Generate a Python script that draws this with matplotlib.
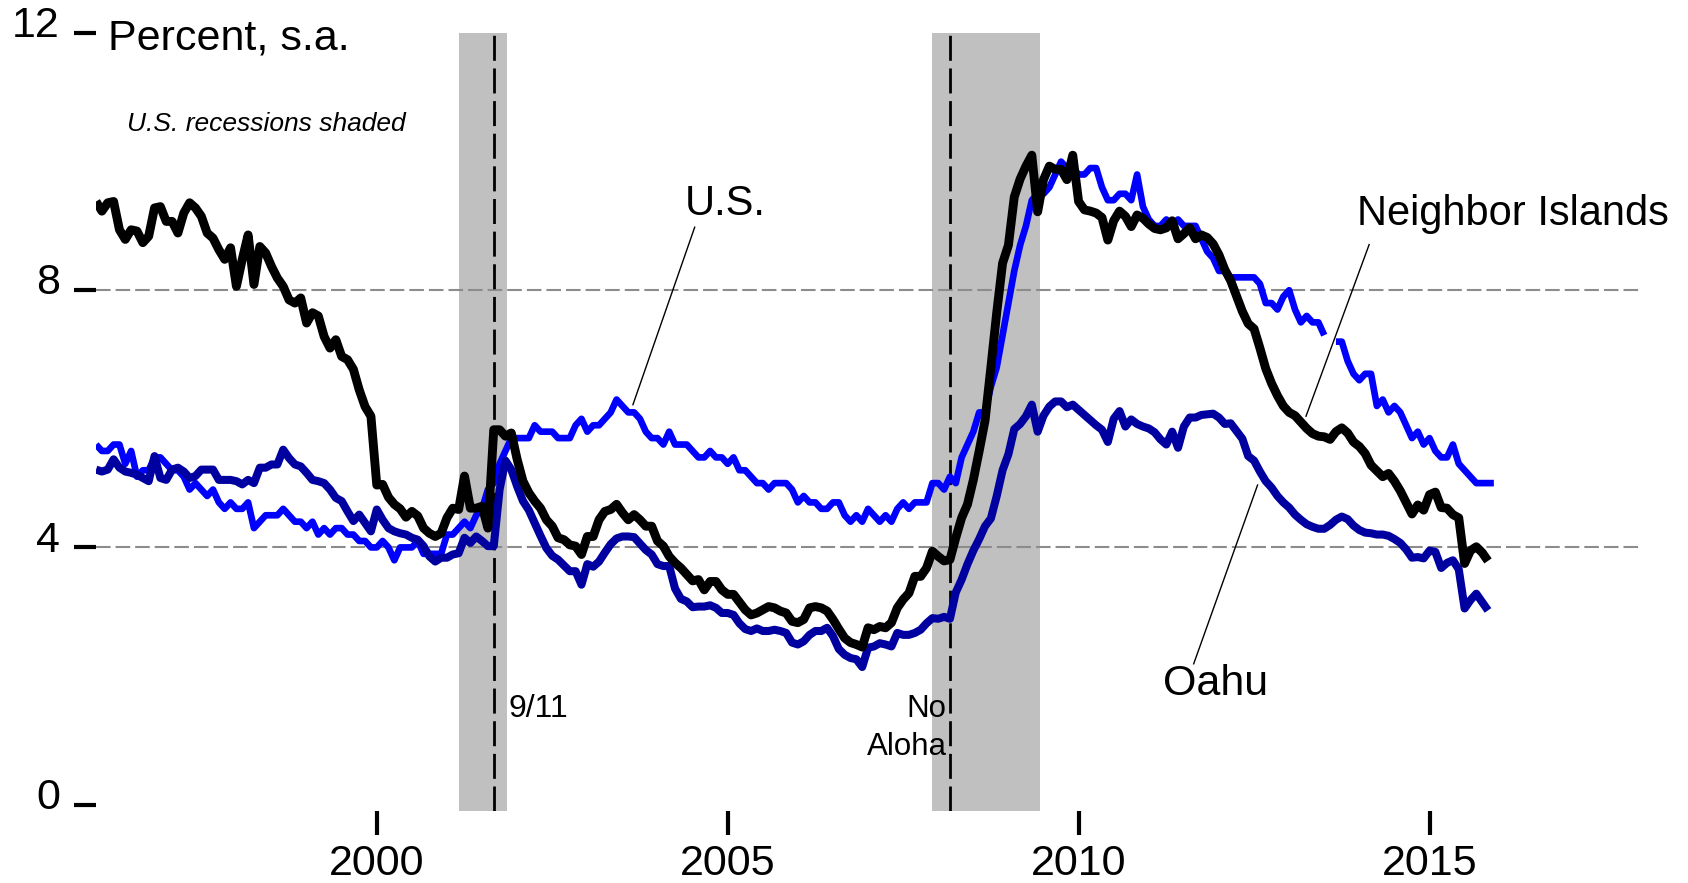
#!/usr/bin/env python3
"""Unemployment rates: U.S., Oahu and Neighbor Islands, monthly 1996-2015."""
import numpy as np
import matplotlib

matplotlib.use("Agg")
import matplotlib.pyplot as plt
from matplotlib.transforms import ScaledTranslation

START_YEAR = 1996  # first month of every series is January 1996

# percent, seasonally adjusted, one value per month
us = [
    5.6, 5.5, 5.5, 5.6, 5.6, 5.3, 5.5, 5.1, 5.2, 5.2, 5.4, 5.4,  # 1996
    5.3, 5.2, 5.2, 5.1, 4.9, 5.0, 4.9, 4.8, 4.9, 4.7, 4.6, 4.7,  # 1997
    4.6, 4.6, 4.7, 4.3, 4.4, 4.5, 4.5, 4.5, 4.6, 4.5, 4.4, 4.4,  # 1998
    4.3, 4.4, 4.2, 4.3, 4.2, 4.3, 4.3, 4.2, 4.2, 4.1, 4.1, 4.0,  # 1999
    4.0, 4.1, 4.0, 3.8, 4.0, 4.0, 4.0, 4.1, 3.9, 3.9, 3.9, 3.9,  # 2000
    4.2, 4.2, 4.3, 4.4, 4.3, 4.5, 4.6, 4.9, 5.0, 5.3, 5.5, 5.7,  # 2001
    5.7, 5.7, 5.7, 5.9, 5.8, 5.8, 5.8, 5.7, 5.7, 5.7, 5.9, 6.0,  # 2002
    5.8, 5.9, 5.9, 6.0, 6.1, 6.3, 6.2, 6.1, 6.1, 6.0, 5.8, 5.7,  # 2003
    5.7, 5.6, 5.8, 5.6, 5.6, 5.6, 5.5, 5.4, 5.4, 5.5, 5.4, 5.4,  # 2004
    5.3, 5.4, 5.2, 5.2, 5.1, 5.0, 5.0, 4.9, 5.0, 5.0, 5.0, 4.9,  # 2005
    4.7, 4.8, 4.7, 4.7, 4.6, 4.6, 4.7, 4.7, 4.5, 4.4, 4.5, 4.4,  # 2006
    4.6, 4.5, 4.4, 4.5, 4.4, 4.6, 4.7, 4.6, 4.7, 4.7, 4.7, 5.0,  # 2007
    5.0, 4.9, 5.1, 5.0, 5.4, 5.6, 5.8, 6.1, 6.1, 6.5, 6.8, 7.3,  # 2008
    7.8, 8.3, 8.7, 9.0, 9.4, 9.5, 9.5, 9.6, 9.8, 10.0, 9.9, 9.9,  # 2009
    9.8, 9.8, 9.9, 9.9, 9.6, 9.4, 9.4, 9.5, 9.5, 9.4, 9.8, 9.3,  # 2010
    9.1, 9.0, 9.0, 9.1, 9.0, 9.1, 9.0, 9.0, 9.0, 8.8, 8.6, 8.5,  # 2011
    8.3, 8.3, 8.2, 8.2, 8.2, 8.2, 8.2, 8.1, 7.8, 7.8, 7.7, 7.9,  # 2012
    8.0, 7.7, 7.5, 7.6, 7.5, 7.5, 7.3, np.nan, 7.2, 7.2, 6.9, 6.7,  # 2013
    6.6, 6.7, 6.7, 6.2, 6.3, 6.1, 6.2, 6.1, 5.9, 5.7, 5.8, 5.6,  # 2014
    5.7, 5.5, 5.4, 5.4, 5.6, 5.3, 5.2, 5.1, 5.0, 5.0, 5.0, 5.0,  # 2015
]

oahu = [
    5.21, 5.18, 5.21, 5.37, 5.24, 5.18, 5.16, 5.13, 5.08, 5.03, 5.42, 5.08,
    5.05, 5.21, 5.24, 5.18, 5.08, 5.11, 5.21, 5.21, 5.21, 5.05, 5.05, 5.05,
    5.03, 4.98, 5.05, 5.00, 5.24, 5.24, 5.29, 5.29, 5.52, 5.39, 5.29, 5.26,
    5.16, 5.05, 5.03, 5.00, 4.90, 4.77, 4.72, 4.56, 4.41, 4.51, 4.38, 4.25,
    4.59, 4.43, 4.30, 4.25, 4.22, 4.20, 4.15, 4.12, 4.02, 3.86, 3.78, 3.84,
    3.84, 3.89, 3.91, 4.15, 4.07, 4.17, 4.10, 4.02, 4.02, 4.90, 5.35, 5.21,
    4.95, 4.72, 4.58, 4.38, 4.18, 3.99, 3.87, 3.81, 3.72, 3.63, 3.63, 3.42,
    3.74, 3.70, 3.78, 3.92, 4.05, 4.14, 4.17, 4.17, 4.16, 4.06, 3.96, 3.89,
    3.74, 3.71, 3.71, 3.36, 3.20, 3.16, 3.07, 3.08, 3.08, 3.10, 3.06, 2.98,
    2.98, 2.95, 2.82, 2.73, 2.70, 2.74, 2.70, 2.70, 2.72, 2.70, 2.67, 2.52,
    2.49, 2.54, 2.64, 2.70, 2.70, 2.75, 2.62, 2.42, 2.33, 2.28, 2.26, 2.14,
    2.44, 2.46, 2.51, 2.49, 2.46, 2.67, 2.64, 2.64, 2.67, 2.72, 2.82, 2.90,
    2.89, 2.92, 2.89, 3.30, 3.50, 3.74, 3.95, 4.13, 4.33, 4.45, 4.80, 5.20,
    5.45, 5.84, 5.92, 6.04, 6.22, 5.80, 6.05, 6.19, 6.27, 6.27, 6.18, 6.22,
    6.14, 6.06, 5.98, 5.90, 5.83, 5.64, 6.00, 6.12, 5.88, 5.99, 5.92, 5.88,
    5.85, 5.79, 5.68, 5.60, 5.80, 5.55, 5.88, 6.02, 6.02, 6.06, 6.07, 6.08,
    6.02, 5.92, 5.93, 5.81, 5.69, 5.42, 5.35, 5.18, 5.03, 4.93, 4.80, 4.70,
    4.62, 4.51, 4.43, 4.36, 4.32, 4.29, 4.29, 4.35, 4.43, 4.48, 4.44, 4.34,
    4.27, 4.23, 4.22, 4.20, 4.20, 4.18, 4.13, 4.07, 3.97, 3.84, 3.85, 3.83,
    3.95, 3.93, 3.68, 3.76, 3.80, 3.66, 3.05, 3.18, 3.28, 3.15, 3.02,
]

neighbor = [
    9.38, 9.23, 9.36, 9.38, 8.94, 8.79, 8.94, 8.92, 8.74, 8.84, 9.28, 9.30,
    9.07, 9.07, 8.89, 9.20, 9.36, 9.28, 9.15, 8.89, 8.81, 8.63, 8.48, 8.66,
    8.06, 8.48, 8.86, 8.09, 8.68, 8.58, 8.37, 8.19, 8.06, 7.85, 7.80, 7.88,
    7.49, 7.65, 7.60, 7.28, 7.10, 7.23, 6.97, 6.92, 6.77, 6.45, 6.19, 6.04,
    4.97, 4.98, 4.78, 4.67, 4.60, 4.47, 4.56, 4.49, 4.30, 4.22, 4.17, 4.22,
    4.46, 4.61, 4.59, 5.11, 4.61, 4.61, 4.64, 4.30, 5.83, 5.83, 5.73, 5.78,
    5.37, 5.03, 4.85, 4.72, 4.61, 4.43, 4.33, 4.15, 4.12, 4.04, 4.02, 3.89,
    4.17, 4.17, 4.43, 4.56, 4.59, 4.67, 4.54, 4.43, 4.51, 4.43, 4.33, 4.33,
    4.10, 4.02, 3.86, 3.76, 3.68, 3.58, 3.48, 3.50, 3.34, 3.47, 3.47, 3.34,
    3.27, 3.27, 3.15, 3.03, 2.95, 2.98, 3.03, 3.08, 3.06, 3.01, 2.98, 2.85,
    2.83, 2.88, 3.06, 3.08, 3.06, 3.01, 2.88, 2.73, 2.59, 2.52, 2.49, 2.45,
    2.75, 2.72, 2.77, 2.75, 2.83, 3.06, 3.19, 3.29, 3.55, 3.55, 3.68, 3.94,
    3.86, 3.79, 3.81, 4.15, 4.46, 4.67, 5.05, 5.50, 5.97, 6.80, 7.65, 8.42,
    8.70, 9.45, 9.73, 9.93, 10.10, 9.22, 9.72, 9.93, 9.88, 9.88, 9.72, 10.10,
    9.38, 9.25, 9.23, 9.20, 9.13, 8.78, 9.08, 9.23, 9.15, 8.99, 9.17, 9.12,
    9.03, 8.96, 8.94, 8.97, 9.08, 8.80, 8.88, 8.97, 8.80, 8.86, 8.82, 8.72,
    8.55, 8.32, 8.15, 7.91, 7.67, 7.48, 7.40, 7.10, 6.78, 6.55, 6.36, 6.20,
    6.10, 6.05, 5.95, 5.85, 5.77, 5.73, 5.72, 5.68, 5.80, 5.86, 5.78, 5.64,
    5.57, 5.46, 5.28, 5.19, 5.10, 5.15, 5.03, 4.88, 4.70, 4.52, 4.66, 4.58,
    4.82, 4.86, 4.62, 4.61, 4.51, 4.46, 3.75, 3.95, 4.01, 3.92, 3.79,
]

# U.S. recessions (Mar-Nov 2001, Dec 2007-Jun 2009), as decimal years
recessions = [(2001 + 2 / 12, 2001 + 10 / 12 + 0.02), (2007 + 11 / 12, 2009 + 5 / 12 + 0.03)]
events = [2001 + 8 / 12, 2008 + 2 / 12]  # 9/11, Aloha Airlines shutdown

x_ticks = [2000, 2005, 2010, 2015]
y_ticks = [0, 4, 8, 12]


def month_axis(series):
    return START_YEAR + np.arange(len(series)) / 12.0


plt.rcParams["font.family"] = ["Liberation Sans", "DejaVu Sans"]
plt.rcParams["ytick.alignment"] = "baseline"

fig = plt.figure(figsize=(16.88, 8.83), dpi=100)
ax = fig.add_axes([0.0569, 0.0815, 0.9147, 0.8811])
ax.set_xlim(1996, 2018)
ax.set_ylim(-0.1, 12)
for s in ax.spines.values():
    s.set_visible(False)

for a, b in recessions:
    ax.axvspan(a, b, color="#c0c0c0", lw=0, zorder=0)
for y in (4, 8):
    ax.axhline(y, color="#8c8c8c", lw=1.5, ls=(0, (7, 2.4)), zorder=1)
for x in events:
    ax.axvline(x, color="black", lw=2, ls=(0, (9, 2.75)), zorder=1.5)

ax.plot(month_axis(us), us, color="#0000ff", lw=4.8, solid_capstyle="butt", zorder=3)
ax.plot(month_axis(oahu), oahu, color="#0000a0", lw=5.8, solid_capstyle="butt", zorder=4)
ax.plot(month_axis(neighbor), neighbor, color="black", lw=6.4, solid_capstyle="butt", zorder=5)

ax.set_xticks(x_ticks)
ax.set_xticklabels([str(t) for t in x_ticks])
ax.set_yticks(y_ticks)
ax.set_yticklabels([str(t) for t in y_ticks])
ax.tick_params(axis="y", length=16, width=3, pad=10, labelsize=31, direction="out")
ax.tick_params(axis="x", length=17, width=3, pad=7, labelsize=31, direction="out")
down = ScaledTranslation(0, -3 / 72, fig.dpi_scale_trans)
for lab in ax.get_yticklabels():
    lab.set_transform(lab.get_transform() + down)

# titles and notes
ax.text(1996.17, 11.75, "Percent, s.a.", fontsize=31, va="baseline")
ax.text(1996.44, 10.48, "U.S. recessions shaded", fontsize=19, style="italic", va="baseline")
ax.text(2001.87, 1.37, "9/11", fontsize=23, va="baseline")
ax.text(2008.12, 1.36, "No", fontsize=22.5, va="baseline", ha="right")
ax.text(2008.12, 0.77, "Aloha", fontsize=22.5, va="baseline", ha="right")

# series labels with leader lines
ax.text(2004.97, 9.17, "U.S.", fontsize=30, va="baseline", ha="center")
ax.plot([2004.53, 2003.65], [8.98, 6.22], color="black", lw=1.0, zorder=6)
ax.text(2013.97, 9.02, "Neighbor Islands", fontsize=30, va="baseline")
ax.plot([2014.14, 2013.24], [8.71, 6.04], color="black", lw=1.0, zorder=6)
ax.text(2011.95, 1.70, "Oahu", fontsize=31, va="baseline", ha="center")
ax.plot([2012.55, 2011.64], [4.97, 2.19], color="black", lw=1.0, zorder=6)

fig.savefig("out.png", dpi=100)
